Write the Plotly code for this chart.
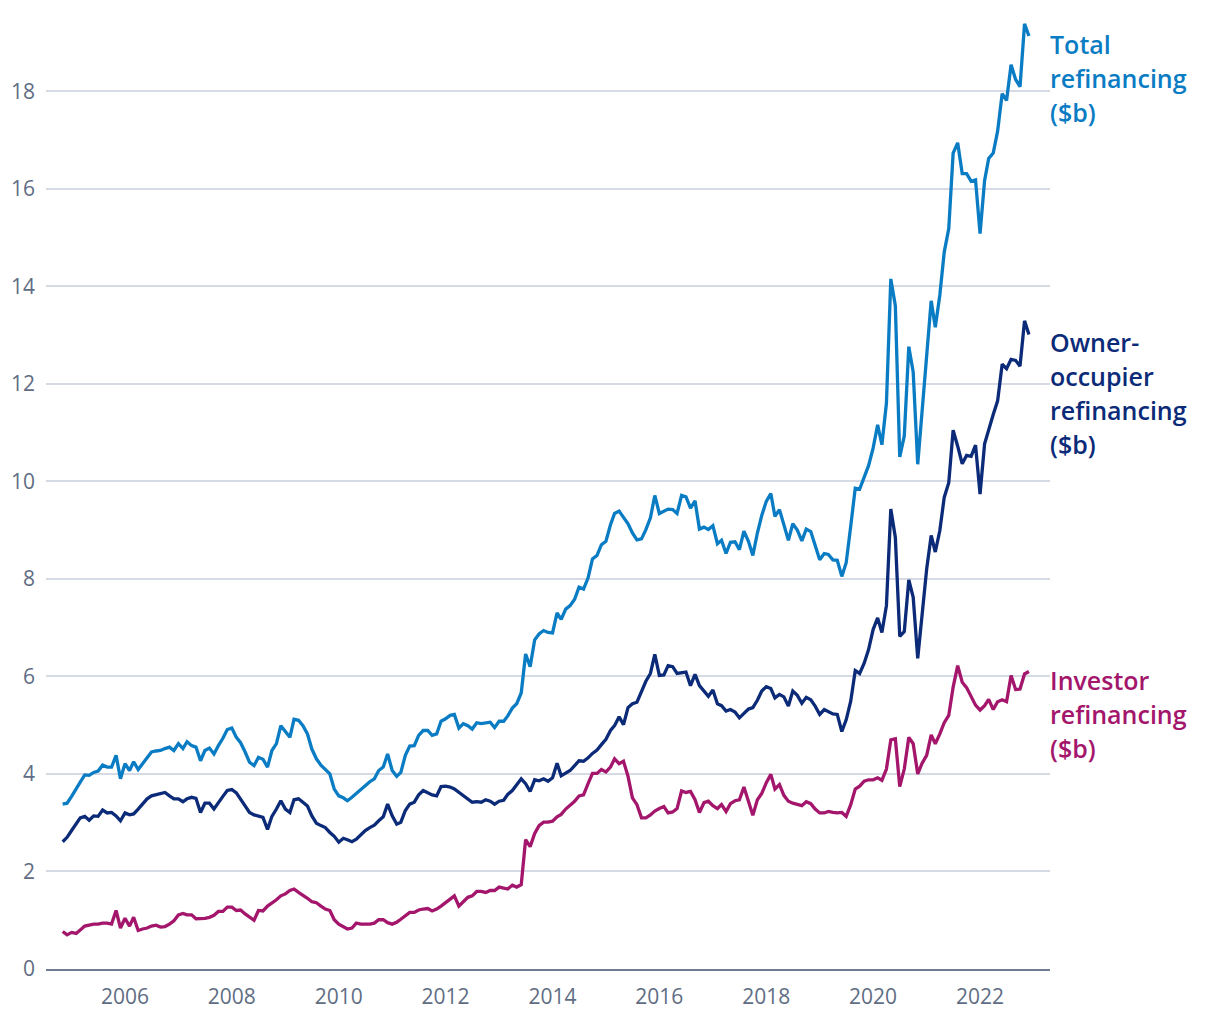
import plotly.graph_objects as go
import pandas as pd

START_MONTH = "2004-11-01"

total_refinancing = [
    3.38, 3.40, 3.54, 3.68, 3.83, 3.98, 3.97, 4.03, 4.06, 4.18, 4.14, 4.14, 4.38, 3.90, 4.21, 4.07, 4.25, 4.09, 4.21, 4.32, 4.45, 4.47, 4.48, 4.52,
    4.55, 4.48, 4.62, 4.52, 4.66, 4.58, 4.55, 4.27, 4.48, 4.53, 4.41, 4.58, 4.73, 4.91, 4.94, 4.75, 4.64, 4.45, 4.24, 4.17, 4.34, 4.30, 4.14, 4.48, 4.62,
    4.99, 4.86, 4.75, 5.12, 5.10, 4.99, 4.82, 4.51, 4.31, 4.18, 4.09, 4.00, 3.69, 3.55, 3.51, 3.45, 3.52, 3.60, 3.66, 3.76, 3.84, 3.90, 4.07,
    4.14, 4.41, 4.07, 3.95, 4.03, 4.38, 4.57, 4.58, 4.79, 4.89, 4.89, 4.79, 4.82, 5.08, 5.13, 5.20, 5.22, 4.94, 5.03, 4.99, 4.92, 5.05, 5.03, 5.04,
    5.06, 4.95, 5.08, 5.08, 5.19, 5.35, 5.44, 5.66, 6.46, 6.20, 6.75, 6.87, 6.94, 6.90, 6.89, 7.30, 7.17, 7.38, 7.45, 7.58, 7.83, 7.79, 8.02,
    8.41, 8.48, 8.70, 8.77, 9.11, 9.34, 9.39, 9.25, 9.13, 8.94, 8.80, 8.82, 9.01, 9.25, 9.71, 9.34, 9.38, 9.43, 9.42, 9.34, 9.71, 9.68, 9.45, 9.60,
    9.02, 9.06, 9.01, 9.09, 8.72, 8.79, 8.52, 8.75, 8.76, 8.60, 8.98, 8.77, 8.48, 8.94, 9.30, 9.59, 9.75, 9.28, 9.42, 9.13, 8.79,
    9.13, 9.00, 8.78, 9.02, 8.97, 8.67, 8.39, 8.52, 8.50, 8.39, 8.38, 8.05, 8.33, 9.08, 9.86, 9.84, 10.07, 10.32, 10.68, 11.16, 10.75, 11.60,
    14.15, 13.60, 10.50, 10.93, 12.76, 12.24, 10.35, 11.45, 12.55, 13.70, 13.16, 13.82, 14.70, 15.18,
    16.73, 16.94, 16.31, 16.31, 16.15, 16.18, 15.08, 16.17, 16.62, 16.73, 17.18, 17.95, 17.81, 18.54, 18.24, 18.09, 19.38, 19.13,
]

owner_occupier_refinancing = [
    2.61, 2.70, 2.84, 2.99, 3.10, 3.13, 3.05, 3.14, 3.13, 3.26, 3.20, 3.21, 3.14, 3.04, 3.20, 3.16, 3.18, 3.28, 3.38, 3.49, 3.55, 3.57, 3.60, 3.62,
    3.55, 3.49, 3.49, 3.43, 3.49, 3.52, 3.50, 3.21, 3.40, 3.40, 3.28, 3.42, 3.54, 3.66, 3.68, 3.61, 3.49, 3.35, 3.21, 3.16, 3.14, 3.11, 2.86, 3.13,
    3.28, 3.45, 3.28, 3.21, 3.47, 3.49, 3.42, 3.34, 3.14, 2.99, 2.94, 2.90, 2.80, 2.72, 2.60, 2.68, 2.65, 2.61, 2.66, 2.75, 2.84, 2.90, 2.95, 3.04,
    3.12, 3.38, 3.14, 2.97, 3.01, 3.25, 3.38, 3.42, 3.57, 3.66, 3.62, 3.57, 3.55, 3.74, 3.75, 3.73, 3.69, 3.62, 3.55, 3.47, 3.42, 3.43, 3.42, 3.47,
    3.44, 3.38, 3.44, 3.46, 3.58, 3.66, 3.78, 3.90, 3.80, 3.64, 3.88, 3.86, 3.90, 3.85, 3.92, 4.22, 3.96, 4.02, 4.07, 4.17, 4.27, 4.26, 4.33,
    4.42, 4.49, 4.60, 4.71, 4.89, 4.99, 5.17, 5.01, 5.36, 5.44, 5.47, 5.70, 5.90, 6.06, 6.45, 6.02, 6.03, 6.22, 6.20, 6.06, 6.07, 6.09, 5.81, 6.04,
    5.81, 5.70, 5.59, 5.72, 5.44, 5.40, 5.29, 5.32, 5.27, 5.15, 5.25, 5.33, 5.36, 5.51, 5.70, 5.79, 5.75, 5.56, 5.63, 5.58, 5.39, 5.70, 5.61, 5.45,
    5.57, 5.52, 5.39, 5.22, 5.32, 5.27, 5.23, 5.22, 4.87, 5.11, 5.49, 6.12, 6.06, 6.27, 6.55, 6.96, 7.20, 6.90, 7.45,
    9.43, 8.85, 6.82, 6.92, 7.98, 7.62, 6.37, 7.27, 8.20, 8.89, 8.55, 8.99, 9.67, 9.97,
    11.05, 10.72, 10.36, 10.53, 10.51, 10.74, 9.74, 10.77, 11.07, 11.37, 11.65, 12.40, 12.31, 12.50, 12.48, 12.36, 13.29, 13.01,
]

investor_refinancing = [
    0.77, 0.70, 0.75, 0.73, 0.80, 0.88, 0.90, 0.92, 0.92, 0.94, 0.94, 0.92, 1.20, 0.84, 1.04, 0.88, 1.06, 0.79, 0.82, 0.84, 0.88, 0.90, 0.86, 0.87,
    0.92, 0.99, 1.11, 1.14, 1.11, 1.11, 1.03, 1.03, 1.04, 1.06, 1.10, 1.18, 1.18, 1.27, 1.27, 1.20, 1.21, 1.13, 1.06, 1.00, 1.20, 1.19, 1.29, 1.35,
    1.42, 1.50, 1.54, 1.61, 1.64, 1.57, 1.52, 1.45, 1.38, 1.36, 1.29, 1.23, 1.20, 1.01, 0.92, 0.86, 0.82, 0.84, 0.94, 0.92, 0.92, 0.92, 0.94, 1.01,
    1.01, 0.95, 0.92, 0.96, 1.02, 1.09, 1.16, 1.16, 1.21, 1.23, 1.24, 1.19, 1.23, 1.29, 1.36, 1.42, 1.50, 1.29, 1.38, 1.47, 1.50, 1.59, 1.59, 1.57,
    1.61, 1.61, 1.68, 1.65, 1.64, 1.72, 1.68, 1.73, 2.65, 2.51, 2.78, 2.94, 3.01, 3.01, 3.03, 3.12, 3.17, 3.28, 3.35, 3.44, 3.55, 3.57, 3.80,
    4.01, 4.01, 4.09, 4.04, 4.14, 4.31, 4.21, 4.26, 3.95, 3.51, 3.37, 3.10, 3.10, 3.16, 3.24, 3.29, 3.33, 3.20, 3.22, 3.29, 3.65, 3.62, 3.64, 3.47,
    3.21, 3.41, 3.44, 3.35, 3.29, 3.37, 3.23, 3.39, 3.45, 3.47, 3.73, 3.44, 3.15, 3.47, 3.60, 3.82, 3.99, 3.69, 3.78, 3.56, 3.44, 3.40, 3.37, 3.35,
    3.43, 3.39, 3.28, 3.20, 3.20, 3.23, 3.21, 3.20, 3.21, 3.13, 3.37, 3.69, 3.75, 3.85, 3.88, 3.88, 3.92, 3.87, 4.10,
    4.70, 4.72, 3.74, 4.10, 4.75, 4.62, 4.00, 4.22, 4.38, 4.80, 4.62, 4.82, 5.05, 5.20,
    5.78, 6.22, 5.88, 5.77, 5.58, 5.41, 5.31, 5.40, 5.53, 5.32, 5.48, 5.52, 5.48, 6.02, 5.73, 5.74, 6.05, 6.10,
]

y_tick_values = [0, 2, 4, 6, 8, 10, 12, 14, 16, 18]
x_tick_years = ["2006", "2008", "2010", "2012", "2014", "2016", "2018", "2020", "2022"]

total_label_lines = ["Total", "refinancing", "($b)"]
owner_label_lines = ["Owner-", "occupier", "refinancing", "($b)"]
investor_label_lines = ["Investor", "refinancing", "($b)"]

COL_TOTAL = "#0a7cc4"
COL_OWNER = "#0b2a78"
COL_INV = "#a3166b"
GRAY = "#5f6d84"
FONT = "'Open Sans', Roboto, sans-serif"

W, H = 1220, 1020
ML, MR, MT, MB = 38, 178, 10, 59
PLOT_H = H - MT - MB


def months(n):
    return pd.date_range(start=START_MONTH, periods=n, freq="MS")


def paper_y(fig_px):
    return (H - MB - fig_px) / PLOT_H


fig = go.Figure()
for vals, col, name in [
    (investor_refinancing, COL_INV, "Investor refinancing ($b)"),
    (owner_occupier_refinancing, COL_OWNER, "Owner-occupier refinancing ($b)"),
    (total_refinancing, COL_TOTAL, "Total refinancing ($b)"),
]:
    fig.add_trace(go.Scatter(
        x=months(len(vals)), y=vals, mode="lines", name=name,
        line=dict(color=col, width=3.3), hoverinfo="x+y",
    ))

LINE_STEP = 34
for lines, first_px, col in [
    (total_label_lines, 36, COL_TOTAL),
    (owner_label_lines, 334, COL_OWNER),
    (investor_label_lines, 672, COL_INV),
]:
    for i, t in enumerate(lines):
        fig.add_annotation(
            text=t, xref="paper", yref="paper", x=1.0, xshift=-2,
            y=paper_y(first_px + i * LINE_STEP),
            xanchor="left", yanchor="middle", align="left", showarrow=False,
            font=dict(family=FONT, size=25, color=col, weight=600),
        )

fig.update_layout(
    width=W, height=H,
    margin=dict(l=ML, r=MR, t=MT, b=MB),
    paper_bgcolor="white", plot_bgcolor="white",
    showlegend=False,
    font=dict(family=FONT, color=GRAY),
    xaxis=dict(
        type="date",
        range=["2004-07-10", "2023-04-24"],
        tickvals=[f"{y}-01-01" for y in x_tick_years],
        ticktext=x_tick_years,
        showgrid=False, zeroline=False, automargin=False,
        showline=True, linecolor="#6e7b91", linewidth=2,
        ticks="", tickfont=dict(family=FONT, size=21, color=GRAY),
        ticklabelstandoff=8,
    ),
    yaxis=dict(
        range=[0, 19.5],
        tickvals=y_tick_values,
        ticktext=[str(v) for v in y_tick_values],
        showgrid=True, gridcolor="#d6dae4", gridwidth=1.5,
        zeroline=False, showline=False, ticks="", automargin=False,
        tickfont=dict(family=FONT, size=21, color=GRAY),
        ticklabelstandoff=10,
    ),
)

fig.write_html("out.html")
